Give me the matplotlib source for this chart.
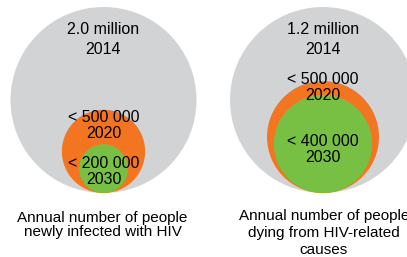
import matplotlib.pyplot as plt
from matplotlib.patches import Circle

# ================================
# Datos (lectura del gráfico)
# ================================
paneles = ["infected", "deaths"]
valores_2014 = [2000000, 1200000]
valores_2020 = [500000, 500000]
valores_2030 = [200000, 400000]
etiq_2014 = ["2.0 million", "1.2 million"]
etiq_2020 = ["< 500 000", "< 500 000"]
etiq_2030 = ["< 200 000", "< 400 000"]
titulos = ["Annual number of people\nnewly infected with HIV",
           "Annual number of people\ndying from HIV-related\ncauses"]

gris = "#d1d3d4"
naranja = "#f37421"
verde = "#77c043"

plt.rcParams['font.family'] = ['Liberation Sans', 'DejaVu Sans']

fig = plt.figure(figsize=(4.07, 2.57), dpi=100)
ax = fig.add_axes([0, 0, 1, 1])
ax.set_xlim(0, 407)
ax.set_ylim(257, 0)
ax.set_aspect("equal")
ax.axis("off")

# escala de radio (el círculo grande es igual en ambos paneles)
R = 93
base_y = 193
exp = 0.58
centros_x = [103.5, 323]
# posiciones verticales de las etiquetas (primera línea)
y_2020 = [118, 80]
y_2030 = [164, 142]
y_titulo = [225, 233]
x_titulo = [102.5, 324]
esp_titulo = [1.05, 1.25]

fs = 11.5
for i in range(len(paneles)):
    cx = centros_x[i]
    v0 = valores_2014[i]
    r1 = R
    r2 = R * (valores_2020[i] / v0) ** exp
    r3 = R * (valores_2030[i] / v0) ** exp
    ax.add_patch(Circle((cx, base_y - r1), r1, color=gris, lw=0))
    ax.add_patch(Circle((cx, base_y - r2), r2, color=naranja, lw=0))
    ax.add_patch(Circle((cx, base_y - r3), r3, color=verde, lw=0))

    ax.text(cx, 29, etiq_2014[i], ha="center", va="center", fontsize=fs)
    ax.text(cx, 50, "2014", ha="center", va="center", fontsize=fs)

    ax.text(cx, y_2020[i], etiq_2020[i], ha="center", va="center", fontsize=fs)
    ax.text(cx, y_2020[i] + 16, "2020", ha="center", va="center", fontsize=fs)

    ax.text(cx, y_2030[i], etiq_2030[i], ha="center", va="center", fontsize=fs)
    ax.text(cx, y_2030[i] + 16, "2030", ha="center", va="center", fontsize=fs)

    ax.text(x_titulo[i], y_titulo[i], titulos[i], ha="center", va="center",
            fontsize=11, linespacing=esp_titulo[i])

fig.savefig("out.png", dpi=100)
